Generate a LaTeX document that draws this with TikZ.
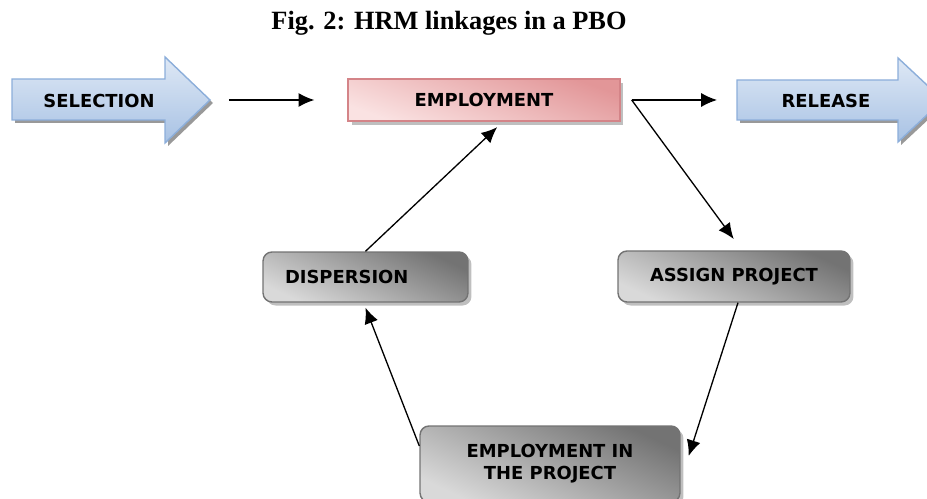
\documentclass[tikz,border=0pt]{standalone}
\usepackage{fontspec}
\newfontfamily\boxfont{DejaVu Sans}
\newfontfamily\titlefont{Liberation Serif}
\usepackage{tikz}
\usetikzlibrary{arrows.meta,positioning,shadows}
\tikzset{>={Latex[length=9pt,width=8pt]}}
\definecolor{arrowlight}{RGB}{222,232,245}
\definecolor{arrowdark}{RGB}{168,194,228}
\definecolor{arrowedge}{RGB}{140,174,218}
\definecolor{emplight}{RGB}{250,226,226}
\definecolor{empdark}{RGB}{226,150,152}
\definecolor{empedge}{RGB}{212,132,136}
\tikzstyle{label} = [font=\boxfont\bfseries\fontsize{10.2}{12.5}\selectfont]
\tikzstyle{pinkbox} = [label, draw=empedge, line width=0.8pt,
    minimum width=5.44cm, minimum height=0.84cm,
    top color=empdark, bottom color=emplight, shading angle=-20,
    drop shadow={shadow xshift=2pt, shadow yshift=-2pt, fill=black!50}]
\tikzstyle{graybox} = [label, draw=black!55, line width=0.8pt,
    rounded corners=0.18cm,
    top color=black!55, bottom color=black!15, shading angle=-25,
    drop shadow={shadow xshift=2pt, shadow yshift=-2pt, fill=black!50}]

\begin{document}
\begin{tikzpicture}[x=0.02cm, y=-0.02cm, line width=0.75pt]
    \useasboundingbox (0,0) rectangle (927,499);
    \node [font=\titlefont\bfseries\fontsize{15}{18}\selectfont] (title) at (449,23) {Fig. 2: HRM linkages in a PBO};

    % big arrows
    \fill [black!40] (15,82) -- (168,82) -- (168,60) -- (213,103) -- (168,146) -- (168,123) -- (15,123) -- cycle;
    \shade [top color=arrowlight, bottom color=arrowdark, draw=arrowedge, line width=0.8pt]
        (12,79) -- (165,79) -- (165,57) -- (210,100) -- (165,143) -- (165,120) -- (12,120) -- cycle;
    \node [label] (sel) at (99,101) {SELECTION};
    \coordinate (seltip) at (210,100);
    \fill [black!40] (740,83) -- (901,83) -- (901,61) -- (946,103) -- (901,145) -- (901,123) -- (740,123) -- cycle;
    \shade [top color=arrowlight, bottom color=arrowdark, draw=arrowedge, line width=0.8pt]
        (737,80) -- (898,80) -- (898,58) -- (943,100) -- (898,142) -- (898,120) -- (737,120) -- cycle;
    \node [label] (rel) at (826,101) {RELEASE};
    \coordinate (reltail) at (737,100);

    % boxes
    \node [pinkbox] (emp) at (484,100) {EMPLOYMENT};
    \node [graybox, minimum width=4.1cm, minimum height=1cm, text width=3.22cm,
        inner xsep=0.44cm, align=left] (disp) at (365.5,277) {DISPERSION};
    \node [graybox, minimum width=4.64cm, minimum height=1.02cm] (asg) at (734,276.5) {ASSIGN PROJECT};
    \node [graybox, minimum width=5.2cm, minimum height=1.52cm, align=center] (eip) at (550,464) {EMPLOYMENT IN\\THE PROJECT};

    \coordinate (fork) at ([xshift=0.22cm]emp.east);
    \draw [->, shorten <=0.38cm, shorten >=0.66cm] (seltip) -- (emp.west);
    \draw [->, shorten >=0.4cm] (fork) -- (reltail);
    \draw [->, shorten >=0.28cm] (fork) -- ([xshift=0.16cm]asg.north);
    \draw [->] ([xshift=0.08cm]asg.south) -- ([shift={(0.16cm,0.16cm)}]eip.east);
    \draw [->] ([yshift=0.36cm]eip.west) -- ([yshift=-0.1cm]disp.south);
    \draw [->, shorten >=0.16cm] (disp.north) -- ([xshift=0.38cm]emp.south);
\end{tikzpicture}
\end{document}
